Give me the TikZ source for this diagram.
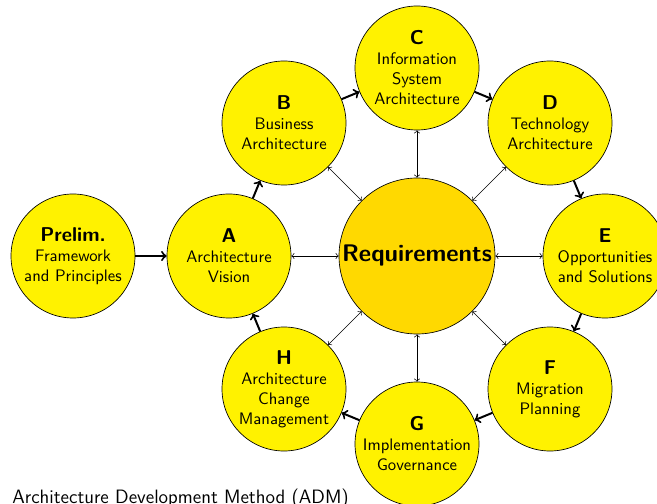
\documentclass[tikz,border=0pt]{standalone}
\definecolor{gold}{RGB}{255,217,0}
\begin{document}
\begin{tikzpicture}[x=0.6pt,y=-0.6pt,
  phase/.style={circle, draw=black, fill=yellow, minimum size=74.4pt, inner sep=0pt, align=center, font=\sffamily},
  req/.style={circle, draw=black, fill=gold, minimum size=93.6pt, inner sep=0pt, font=\sffamily\Large\bfseries},
  flow/.style={->, very thick},
  link/.style={<->},
  ttl/.style={font=\large\bfseries}]
\useasboundingbox (0,0) rectangle (657,504);
\node[req] (R) at (417,256) {Requirements};
\node[phase] (P) at (73,256) {{\large\bfseries Prelim.}\\Framework\\and Principles};
\node[phase] (A) at (229,256) {{\large\bfseries A}\\Architecture\\Vision};
\node[phase] (B) at (284,123) {{\large\bfseries B}\\Business\\Architecture};
\node[phase] (C) at (417,68) {{\large\bfseries C}\\Information\\System\\Architecture};
\node[phase] (D) at (550,123) {{\large\bfseries D}\\Technology\\Architecture};
\node[phase] (E) at (605,256) {{\large\bfseries E}\\Opportunities\\and Solutions};
\node[phase] (F) at (550,389) {{\large\bfseries F}\\Migration\\Planning};
\node[phase] (G) at (417,444) {{\large\bfseries G}\\Implementation\\Governance};
\node[phase] (H) at (284,389) {{\large\bfseries H}\\Architecture\\Change\\Management};
\node[anchor=base west, font=\sffamily\fontsize{11.6}{14}\selectfont, inner sep=0pt] (T) at (12,503) {Architecture Development Method (ADM)};
\draw[flow] (P) -- (A);
\draw[flow] (A) -- (B);
\draw[flow] (B) -- (C);
\draw[flow] (C) -- (D);
\draw[flow] (D) -- (E);
\draw[flow] (E) -- (F);
\draw[flow] (F) -- (G);
\draw[flow] (G) -- (H);
\draw[flow] (H) -- (A);
\foreach \n in {A,B,C,D,E,F,G,H} \draw[link] (R) -- (\n);
\end{tikzpicture}
\end{document}
